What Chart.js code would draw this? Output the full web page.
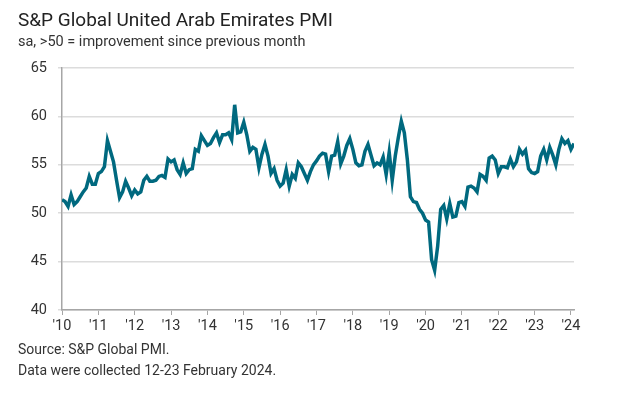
<!DOCTYPE html>
<html>
<head>
<meta charset="utf-8">
<script src="https://cdn.jsdelivr.net/npm/chart.js@4.4.1/dist/chart.umd.min.js"></script>
<style>
  html, body { margin: 0; padding: 0; background: #fff; }
  #wrap { position: relative; width: 619px; height: 397px; overflow: hidden; font-family: Roboto, "Liberation Sans", sans-serif; color: #333; }
  #chart { position: absolute; left: 0; top: 0; }
  .txt { position: absolute; left: 18px; white-space: nowrap; line-height: 1; }
  #title { top: 10px; font-size: 19px; color: #222; }
  #subtitle { top: 35px; font-size: 14.5px; }
  #src { top: 342px; font-size: 14px; }
  #note { top: 363px; font-size: 14px; }
</style>
</head>
<body>
<div id="wrap">
  <canvas id="chart" width="619" height="397"></canvas>
  <div class="txt" id="title">S&amp;P Global United Arab Emirates PMI</div>
  <div class="txt" id="subtitle">sa, &gt;50 = improvement since previous month</div>
  <div class="txt" id="src">Source: S&amp;P Global PMI.</div>
  <div class="txt" id="note">Data were collected 12-23 February 2024.</div>
</div>
<script>
// Monthly PMI, Jan 2010 .. Feb 2024
const FIRST_YEAR = 2010;
const pmi2010 = [51.4, 51.2, 50.7, 51.9, 50.9, 51.2, 51.7, 52.2, 52.6, 53.8, 53.0, 53.0];
const pmi2011 = [54.1, 54.3, 54.8, 57.5, 56.4, 55.3, 53.4, 51.6, 52.2, 53.3, 52.6, 51.8];
const pmi2012 = [52.4, 52.0, 52.2, 53.4, 53.8, 53.3, 53.3, 53.4, 53.8, 53.9, 53.7, 55.6];
const pmi2013 = [55.3, 55.5, 54.5, 54.0, 55.2, 54.1, 54.5, 54.6, 56.6, 56.4, 58.0, 57.5];
const pmi2014 = [57.0, 57.2, 57.8, 58.3, 57.3, 58.1, 58.1, 58.3, 57.6, 61.2, 58.3, 58.4];
const pmi2015 = [59.4, 58.1, 56.4, 56.8, 56.6, 54.7, 56.1, 57.1, 55.9, 54.1, 54.6, 53.4];
const pmi2016 = [52.8, 53.1, 54.5, 52.8, 54.0, 53.6, 55.2, 54.8, 54.1, 53.4, 54.3, 55.0];
const pmi2017 = [55.4, 55.9, 56.2, 56.1, 54.3, 55.9, 56.0, 57.4, 55.1, 55.9, 57.0, 57.7];
const pmi2018 = [56.6, 55.2, 54.9, 55.0, 56.4, 57.1, 56.0, 54.9, 55.2, 55.0, 55.8, 54.0];
const pmi2019 = [56.3, 53.4, 55.9, 57.8, 59.5, 58.3, 55.5, 51.7, 51.2, 51.1, 50.4, 50.0];
const pmi2020 = [49.3, 49.1, 45.2, 44.1, 46.6, 50.4, 50.8, 49.4, 51.0, 49.6, 49.7, 51.1];
const pmi2021 = [51.2, 50.7, 52.7, 52.8, 52.6, 52.2, 54.0, 53.8, 53.4, 55.7, 55.9, 55.5];
const pmi2022 = [54.1, 54.8, 54.8, 54.7, 55.6, 54.8, 55.3, 56.6, 56.1, 56.5, 54.6, 54.2];
const pmi2023 = [54.1, 54.3, 55.9, 56.6, 55.5, 56.8, 56.0, 55.0, 56.6, 57.7, 57.2, 57.5];
const pmi2024 = [56.6, 57.2];

const pmi = [].concat(pmi2010, pmi2011, pmi2012, pmi2013, pmi2014, pmi2015, pmi2016,
                      pmi2017, pmi2018, pmi2019, pmi2020, pmi2021, pmi2022, pmi2023, pmi2024);

const yTicks = [40, 45, 50, 55, 60, 65];

const LINE_COLOR = '#00697f';
const AXIS_COLOR = '#a6a6a6';
const GRID_COLOR = '#dcdcdc';
const FONT = 'Roboto, "Liberation Sans", sans-serif';

new Chart(document.getElementById('chart'), {
    type: 'line',
    data: {
        datasets: [{
            data: pmi.map((v, i) => ({ x: i, y: v })),
            borderColor: LINE_COLOR,
            borderWidth: 3.5,
            pointRadius: 0,
            tension: 0,
            fill: false,
        }],
    },
    options: {
        responsive: false,
        animation: false,
        layout: { padding: { left: 0, top: 68, right: 45, bottom: 57 } },
        plugins: { legend: { display: false }, tooltip: { enabled: false } },
        scales: {
            x: {
                type: 'linear',
                min: 0,
                max: pmi.length - 1,
                afterFit: (s) => { s.height = 30; },
                border: { color: AXIS_COLOR, width: 1.5 },
                grid: { drawOnChartArea: false, drawTicks: true, tickLength: 5, color: AXIS_COLOR },
                ticks: {
                    stepSize: 12,
                    includeBounds: false,
                    autoSkip: false,
                    maxRotation: 0,
                    padding: 3,
                    color: '#333',
                    font: { family: FONT, size: 14.5 },
                    callback: (v) => "'" + String((FIRST_YEAR + v / 12) % 100).padStart(2, '0'),
                },
            },
            y: {
                min: yTicks[0],
                max: yTicks[yTicks.length - 1],
                afterFit: (s) => { s.width = 62; },
                afterBuildTicks: (s) => { s.ticks = yTicks.map(v => ({ value: v })); },
                border: { color: AXIS_COLOR, width: 1.5 },
                grid: { color: GRID_COLOR, lineWidth: 1.5, tickLength: 4 },
                ticks: {
                    padding: 11,
                    color: '#333',
                    font: { family: FONT, size: 14.5 },
                },
            },
        },
    },
});
</script>
</body>
</html>
